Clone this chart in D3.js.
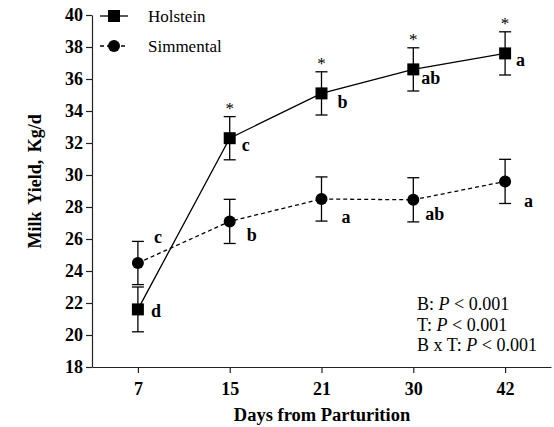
<!DOCTYPE html>
<html>
<head>
<meta charset="utf-8">
<script src="https://cdn.jsdelivr.net/npm/d3@7/dist/d3.min.js"></script>
<style>
  body { margin: 0; background: #fff; }
</style>
</head>
<body>
<div id="chart"></div>
<script>
// data
var days = ["7", "15", "21", "30", "42"];
var holstein = [21.6, 32.3, 35.1, 36.6, 37.6];
var holsteinErr = [1.4, 1.35, 1.35, 1.35, 1.35];
var simmental = [24.5, 27.1, 28.5, 28.45, 29.6];
var simmentalErr = [1.35, 1.38, 1.38, 1.38, 1.38];
var holsteinLetters = ["d", "c", "b", "ab", "a"];
var simmentalLetters = ["c", "b", "a", "ab", "a"];
var holsteinStar = [false, true, true, true, true];
var yTicks = [18, 20, 22, 24, 26, 28, 30, 32, 34, 36, 38, 40];
var stats = ["B: ", "T: ", "B x T: "];

// label nudges (px) for the letters
var hOff = [[13, 8], [12, 13], [16, 15], [8, 15], [11, 13]];
var sOff = [[16, -20], [17, 20], [20, 24], [12, 20], [19, 26]];

var serif = "Liberation Serif";
var width = 554, height = 427;
var margin = {top: 15, right: 3, bottom: 60, left: 92};

var svg = d3.select("#chart").append("svg")
    .attr("width", width)
    .attr("height", height)
    .attr("font-family", serif);

var x = d3.scalePoint()
    .domain(days)
    .range([margin.left, width - margin.right])
    .padding(0.5);

var y = d3.scaleLinear()
    .domain([18, 40])
    .range([height - margin.bottom, margin.top]);

// axes
var xAxis = svg.append("g")
    .attr("transform", "translate(0," + y(18) + ")")
    .call(d3.axisBottom(x).tickSize(6).tickSizeOuter(0));
var yAxis = svg.append("g")
    .attr("transform", "translate(" + margin.left + ",0)")
    .call(d3.axisLeft(y).tickValues(yTicks).tickSize(6).tickSizeOuter(0));

[xAxis, yAxis].forEach(function(a) {
  a.attr("font-family", serif).attr("font-size", 18);
  a.selectAll("path, line").attr("stroke", "#222").attr("stroke-width", 1.2);
  a.selectAll("text")
    .style("font-family", serif)
    .style("font-weight", "bold")
    .style("font-size", "18px")
    .attr("fill", "#000");
});
xAxis.selectAll("text").attr("dy", "1.05em");
yAxis.selectAll("text").attr("x", -9);

svg.append("text")
    .attr("transform", "translate(41," + y(29.6) + ") rotate(-90)")
    .attr("text-anchor", "middle")
    .style("font-family", serif)
    .style("font-weight", "bold")
    .style("font-size", "18px")
    .style("word-spacing", "3px")
    .text("Milk Yield, Kg/d");

svg.append("text")
    .attr("x", 322)
    .attr("y", 421)
    .attr("text-anchor", "middle")
    .style("font-family", serif)
    .style("font-weight", "bold")
    .style("font-size", "18.5px")
    .text("Days from Parturition");

// error bars
function errorBars(vals, errs) {
  var g = svg.append("g").attr("stroke", "#000").attr("stroke-width", 1.3);
  vals.forEach(function(v, i) {
    var cx = x(days[i]);
    g.append("line").attr("x1", cx).attr("x2", cx).attr("y1", y(v - errs[i])).attr("y2", y(v + errs[i]));
    g.append("line").attr("x1", cx - 6).attr("x2", cx + 6).attr("y1", y(v - errs[i])).attr("y2", y(v - errs[i]));
    g.append("line").attr("x1", cx - 6).attr("x2", cx + 6).attr("y1", y(v + errs[i])).attr("y2", y(v + errs[i]));
  });
}
errorBars(simmental, simmentalErr);
errorBars(holstein, holsteinErr);

var line = d3.line()
    .x(function(d, i) { return x(days[i]); })
    .y(function(d) { return y(d); });

svg.append("path")
    .datum(simmental)
    .attr("fill", "none")
    .attr("stroke", "#000")
    .attr("stroke-width", 1.3)
    .attr("stroke-dasharray", "4,3")
    .attr("d", line);

svg.append("path")
    .datum(holstein)
    .attr("fill", "none")
    .attr("stroke", "#000")
    .attr("stroke-width", 1.3)
    .attr("d", line);

svg.selectAll(".sim")
    .data(simmental)
  .enter().append("circle")
    .attr("cx", function(d, i) { return x(days[i]); })
    .attr("cy", function(d) { return y(d); })
    .attr("r", 6)
    .attr("fill", "#000");

svg.selectAll(".hol")
    .data(holstein)
  .enter().append("rect")
    .attr("x", function(d, i) { return x(days[i]) - 6; })
    .attr("y", function(d) { return y(d) - 6; })
    .attr("width", 12)
    .attr("height", 12)
    .attr("fill", "#000");

// letters
holstein.forEach(function(v, i) {
  svg.append("text")
      .attr("x", x(days[i]) + hOff[i][0])
      .attr("y", y(v) + hOff[i][1])
      .style("font-family", serif)
      .style("font-weight", "bold")
      .style("font-size", "18px")
      .text(holsteinLetters[i]);
  if (holsteinStar[i]) {
    svg.append("text")
        .attr("x", x(days[i]))
        .attr("y", y(v + holsteinErr[i]) - 3)
        .attr("text-anchor", "middle")
        .style("font-family", serif)
        .style("font-size", "17px")
        .text("*");
  }
});
simmental.forEach(function(v, i) {
  svg.append("text")
      .attr("x", x(days[i]) + sOff[i][0])
      .attr("y", y(v) + sOff[i][1])
      .style("font-family", serif)
      .style("font-weight", "bold")
      .style("font-size", "18px")
      .text(simmentalLetters[i]);
});

// stats box
stats.forEach(function(s, i) {
  var t = svg.append("text")
      .attr("x", 417)
      .attr("y", 310 + i * 20.5)
      .style("font-family", serif)
      .style("font-size", "18px");
  t.append("tspan").text(s);
  t.append("tspan").style("font-style", "italic").text("P");
  t.append("tspan").text(" < 0.001");
});

// legend
var legend = [
  {name: "Holstein", dash: null, shape: "square", y: 16},
  {name: "Simmental", dash: "4,3", shape: "circle", y: 46}
];
legend.forEach(function(l) {
  svg.append("line")
      .attr("x1", 100).attr("x2", 128)
      .attr("y1", l.y).attr("y2", l.y)
      .attr("stroke", "#000")
      .attr("stroke-width", 1.3)
      .attr("stroke-dasharray", l.dash);
  if (l.shape === "square") {
    svg.append("rect").attr("x", 108).attr("y", l.y - 6).attr("width", 12).attr("height", 12);
  } else {
    svg.append("circle").attr("cx", 114).attr("cy", l.y).attr("r", 6);
  }
  svg.append("text")
      .attr("x", 148)
      .attr("y", l.y + 6)
      .style("font-family", serif)
      .style("font-size", "17px")
      .text(l.name);
});
</script>
</body>
</html>
